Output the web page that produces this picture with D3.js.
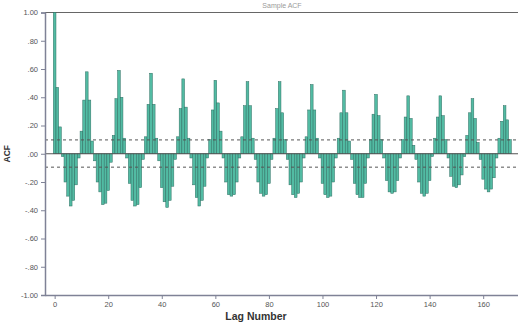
<!DOCTYPE html>
<html>
<head>
<meta charset="utf-8">
<script src="https://cdn.jsdelivr.net/npm/d3@7"></script>
<style>
  body { margin: 0; background: #fff; }
  svg { display: block; font-family: "Liberation Sans", Arial, sans-serif; }
</style>
</head>
<body>
<div id="chart"></div>
<script>
// ACF values, one row per 12 lags (lag 0..170)
const acf = [
  1.00, 0.47, 0.19, -0.02, -0.20, -0.30, -0.37, -0.33, -0.22, -0.03, 0.16, 0.38,
  0.58, 0.38, 0.09, -0.05, -0.20, -0.27, -0.36, -0.35, -0.26, -0.06, 0.13, 0.39,
  0.59, 0.40, 0.11, -0.03, -0.21, -0.33, -0.37, -0.36, -0.24, -0.04, 0.12, 0.35,
  0.57, 0.35, 0.11, -0.05, -0.24, -0.34, -0.38, -0.33, -0.23, -0.04, 0.12, 0.32,
  0.53, 0.33, 0.11, -0.03, -0.22, -0.31, -0.37, -0.33, -0.23, -0.03, 0.10, 0.31,
  0.52, 0.36, 0.16, -0.03, -0.20, -0.29, -0.30, -0.29, -0.20, -0.03, 0.12, 0.34,
  0.51, 0.34, 0.11, -0.04, -0.20, -0.28, -0.30, -0.29, -0.21, -0.04, 0.11, 0.32,
  0.51, 0.29, 0.10, -0.04, -0.22, -0.29, -0.31, -0.28, -0.20, -0.03, 0.12, 0.31,
  0.49, 0.31, 0.11, -0.03, -0.21, -0.29, -0.31, -0.30, -0.20, -0.03, 0.11, 0.29,
  0.45, 0.29, 0.09, -0.04, -0.21, -0.29, -0.31, -0.31, -0.21, -0.03, 0.10, 0.28,
  0.42, 0.27, 0.10, -0.03, -0.19, -0.27, -0.28, -0.27, -0.19, -0.03, 0.10, 0.26,
  0.41, 0.25, 0.06, -0.04, -0.20, -0.28, -0.30, -0.28, -0.19, -0.02, 0.11, 0.26,
  0.41, 0.27, 0.10, -0.03, -0.16, -0.23, -0.24, -0.22, -0.15, -0.02, 0.13, 0.29,
  0.39, 0.25, 0.08, -0.04, -0.18, -0.25, -0.27, -0.25, -0.17, -0.03, 0.11, 0.23,
  0.34, 0.24, 0.10
];
const lags = acf.map((v, i) => i);

// confidence limits
const upperLimit = 0.098;
const lowerLimit = -0.095;

const yTicks = [1, 0.8, 0.6, 0.4, 0.2, 0, -0.2, -0.4, -0.6, -0.8, -1];
const yTickLabels = ["1.00", ".80", ".60", ".40", ".20", ".00", "-.20", "-.40", "-.60", "-.80", "-1.00"];
const xTicks = [0, 20, 40, 60, 80, 100, 120, 140, 160];

const width = 518, height = 324;
const plot = {left: 45, right: 518, top: 12.5, bottom: 295};

const svg = d3.select("#chart").append("svg")
  .attr("width", width)
  .attr("height", height);

const x = d3.scaleLinear()
  .domain([-3.6, 173])
  .range([plot.left, plot.right]);

const y = d3.scaleLinear()
  .domain([-1, 1])
  .range([plot.bottom, plot.top]);

const step = x(1) - x(0);

// faint title
svg.append("text")
  .attr("x", 282).attr("y", 8)
  .attr("text-anchor", "middle")
  .attr("font-size", 7)
  .attr("fill", "#9a9a9a")
  .text("Sample ACF");

// top border
svg.append("line")
  .attr("x1", plot.left).attr("x2", plot.right)
  .attr("y1", plot.top).attr("y2", plot.top)
  .attr("stroke", "#666").attr("stroke-width", 1);

// bars
svg.append("g")
  .selectAll("rect")
  .data(lags)
  .enter()
  .append("rect")
  .attr("x", d => x(d) - step / 2)
  .attr("width", step)
  .attr("y", d => y(Math.max(0, acf[d])))
  .attr("height", d => Math.abs(y(acf[d]) - y(0)))
  .attr("fill", "#52bba3")
  .attr("stroke", "#2f6e62")
  .attr("stroke-width", 0.5);

// zero line
svg.append("line")
  .attr("x1", plot.left).attr("x2", plot.right)
  .attr("y1", y(0)).attr("y2", y(0))
  .attr("stroke", "#555").attr("stroke-width", 1);

// confidence limits
[upperLimit, lowerLimit].forEach(v => {
  svg.append("line")
    .attr("x1", plot.left).attr("x2", plot.right)
    .attr("y1", y(v)).attr("y2", y(v))
    .attr("stroke", "#555")
    .attr("stroke-width", 1)
    .attr("stroke-dasharray", "3,3");
});

// y axis
const yAxis = svg.append("g")
  .attr("transform", `translate(${plot.left},0)`)
  .call(d3.axisLeft(y).tickValues(yTicks).tickSize(4)
    .tickFormat((d, i) => yTickLabels[i]));
yAxis.select(".domain").attr("stroke", "#7f8296").attr("stroke-width", 1.5);
yAxis.selectAll(".tick line").attr("stroke", "#7f8296");
yAxis.selectAll("text").attr("font-size", 7.5).attr("fill", "#555")
  .attr("font-family", "Liberation Sans, Arial, sans-serif");

// x axis
const xAxis = svg.append("g")
  .attr("transform", `translate(0,${plot.bottom})`)
  .call(d3.axisBottom(x).tickValues(xTicks).tickSize(4).tickSizeOuter(0));
xAxis.select(".domain").attr("stroke", "#7f8296").attr("stroke-width", 1.5);
xAxis.selectAll(".tick line").attr("stroke", "#7f8296");
xAxis.selectAll("text").attr("font-size", 7.5).attr("fill", "#555")
  .attr("font-family", "Liberation Sans, Arial, sans-serif");

// axis titles
svg.append("text")
  .attr("transform", `translate(10,${y(0)}) rotate(-90)`)
  .attr("text-anchor", "middle")
  .attr("font-size", 8.5)
  .attr("font-weight", "bold")
  .attr("fill", "#333")
  .text("ACF");

svg.append("text")
  .attr("x", 256).attr("y", 320)
  .attr("text-anchor", "middle")
  .attr("font-size", 10.5)
  .attr("font-weight", "bold")
  .attr("fill", "#333")
  .text("Lag Number");
</script>
</body>
</html>
